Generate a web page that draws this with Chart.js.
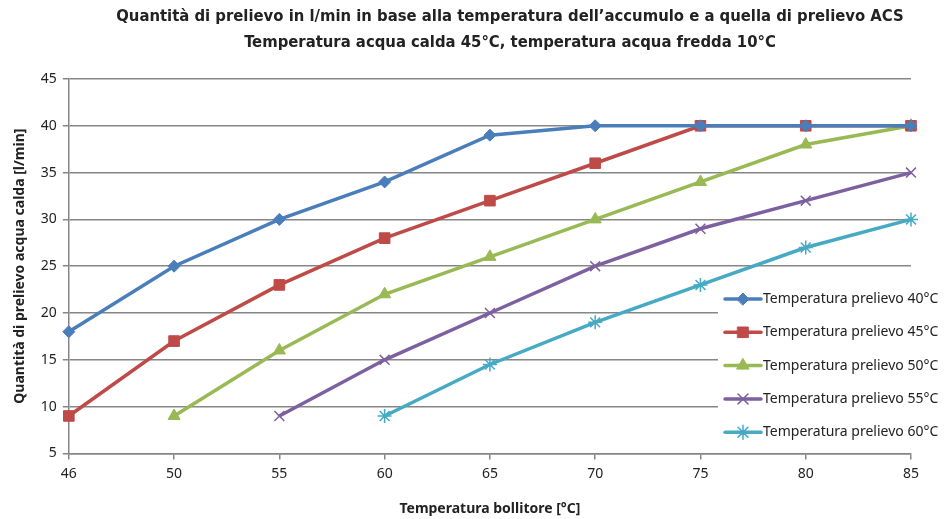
<!DOCTYPE html>
<html>
<head>
<meta charset="utf-8">
<script src="https://cdn.jsdelivr.net/npm/chart.js@4/dist/chart.umd.min.js"></script>
<style>
  html, body { margin: 0; padding: 0; background: #fff; }
  #wrap { width: 948px; height: 519px; }
</style>
</head>
<body>
<div id="wrap"><canvas id="lineChart" width="948" height="519"></canvas></div>
<script>
// temperatura bollitore (°C)
const categorie = ['46', '50', '55', '60', '65', '70', '75', '80', '85'];

// quantità di prelievo (l/min) per temperatura di prelievo
const prelievo40 = [18, 25, 30, 34, 39, 40, 40, 40, 40];
const prelievo45 = [9, 17, 23, 28, 32, 36, 40, 40, 40];
const prelievo50 = [null, 9, 16, 22, 26, 30, 34, 38, 40];
const prelievo55 = [null, null, 9, 15, 20, 25, 29, 32, 35];
const prelievo60 = [null, null, null, 9, 14.5, 19, 23, 27, 30];

const nomiSerie = [
    'Temperatura prelievo 40°C',
    'Temperatura prelievo 45°C',
    'Temperatura prelievo 50°C',
    'Temperatura prelievo 55°C',
    'Temperatura prelievo 60°C'
];

const titolo = [
    'Quantità di prelievo in l/min in base alla temperatura dell\u2019accumulo e a quella di prelievo ACS',
    'Temperatura acqua calda 45°C, temperatura acqua fredda 10°C'
];

const fontBase = '"Noto Sans", "Open Sans", sans-serif';
const fontTitolo = '"Liberation Sans Narrow", "DejaVu Sans Condensed", "Noto Sans", sans-serif';

function serie(label, data, color, style, radius) {
    return {
        label: label,
        data: data,
        borderColor: color,
        backgroundColor: color,
        pointBackgroundColor: color,
        pointBorderColor: color,
        borderWidth: 3.5,
        pointStyle: style,
        pointRadius: radius,
        pointHoverRadius: radius,
        pointBorderWidth: (style === 'crossRot' || style === 'star') ? 1.5 : 1,
        tension: 0,
        spanGaps: false
    };
}

const data = {
    labels: categorie,
    datasets: [
        serie(nomiSerie[0], prelievo40, '#4A7EBB', 'rectRot', 6),
        serie(nomiSerie[1], prelievo45, '#BE4B48', 'rect', 7.5),
        serie(nomiSerie[2], prelievo50, '#98B954', 'triangle', 7),
        serie(nomiSerie[3], prelievo55, '#7D60A0', 'crossRot', 7),
        serie(nomiSerie[4], prelievo60, '#46AAC5', 'star', 7)
    ]
};

// titolo su due righe, centrato come nell'originale (un po' a destra)
const titoloPlugin = {
    id: 'titoloPlugin',
    afterDraw(chart) {
        const ctx = chart.ctx;
        ctx.save();
        ctx.fillStyle = '#222';
        ctx.textAlign = 'center';
        ctx.textBaseline = 'middle';
        ctx.font = 'bold 16.5px ' + fontTitolo;
        ctx.fillText(titolo[0], 510, 17);
        ctx.fillText(titolo[1], 510, 43);
        ctx.restore();
    }
};

// legenda disegnata dentro l'area del grafico, con sfondo bianco
const legendaInterna = {
    id: 'legendaInterna',
    afterDatasetsDraw(chart) {
        const ctx = chart.ctx;
        const x0 = 718, y0 = 282;
        ctx.save();
        ctx.fillStyle = '#ffffff';
        ctx.fillRect(x0, y0, 948 - x0, 166);
        chart.data.datasets.forEach((ds, i) => {
            const y = 299 + i * 33.3;
            ctx.strokeStyle = ds.borderColor;
            ctx.fillStyle = ds.borderColor;
            ctx.lineWidth = 3.5;
            ctx.lineCap = 'round';
            ctx.beginPath();
            ctx.moveTo(725, y);
            ctx.lineTo(761, y);
            ctx.stroke();
            ctx.lineWidth = ds.pointBorderWidth;
            Chart.helpers.drawPoint(ctx, {
                pointStyle: ds.pointStyle,
                radius: ds.pointRadius,
                rotation: 0,
                borderWidth: ds.pointBorderWidth
            }, 743, y);
            ctx.fillStyle = '#222';
            ctx.font = '14px ' + fontBase;
            ctx.textBaseline = 'middle';
            ctx.textAlign = 'left';
            ctx.fillText(ds.label, 763, y);
        });
        ctx.restore();
    }
};

const options = {
    responsive: false,
    animation: false,
    layout: { padding: { left: 12, right: 37, top: 79, bottom: 2 } },
    plugins: {
        legend: { display: false },
        tooltip: { enabled: false },
        title: { display: false }
    },
    scales: {
        x: {
            type: 'category',
            offset: false,
            grid: {
                display: true,
                drawOnChartArea: false,
                drawTicks: true,
                tickLength: 6,
                color: '#868686',
                lineWidth: 1.5
            },
            border: { color: '#868686', width: 1.5 },
            ticks: { color: '#222', font: { family: fontBase, size: 14 }, padding: 6, maxRotation: 0 },
            title: {
                display: true,
                text: 'Temperatura bollitore [°C]',
                color: '#222',
                font: { family: fontBase, size: 14, weight: 'bold' },
                padding: { top: 12, bottom: 0 }
            }
        },
        y: {
            min: 5,
            max: 45,
            ticks: { stepSize: 5, color: '#222', font: { family: fontBase, size: 14 }, padding: 6 },
            grid: {
                color: '#868686',
                lineWidth: 1.5,
                drawTicks: true,
                tickLength: 6
            },
            border: { color: '#868686', width: 1.5 },
            title: {
                display: true,
                text: 'Quantità di prelievo acqua calda [l/min]',
                color: '#222',
                font: { family: fontBase, size: 14, weight: 'bold' },
                padding: { top: 0, bottom: 6 }
            }
        }
    }
};

const lineChart = new Chart(document.getElementById('lineChart').getContext('2d'), {
    type: 'line',
    data: data,
    options: options,
    plugins: [legendaInterna, titoloPlugin]
});
</script>
</body>
</html>
